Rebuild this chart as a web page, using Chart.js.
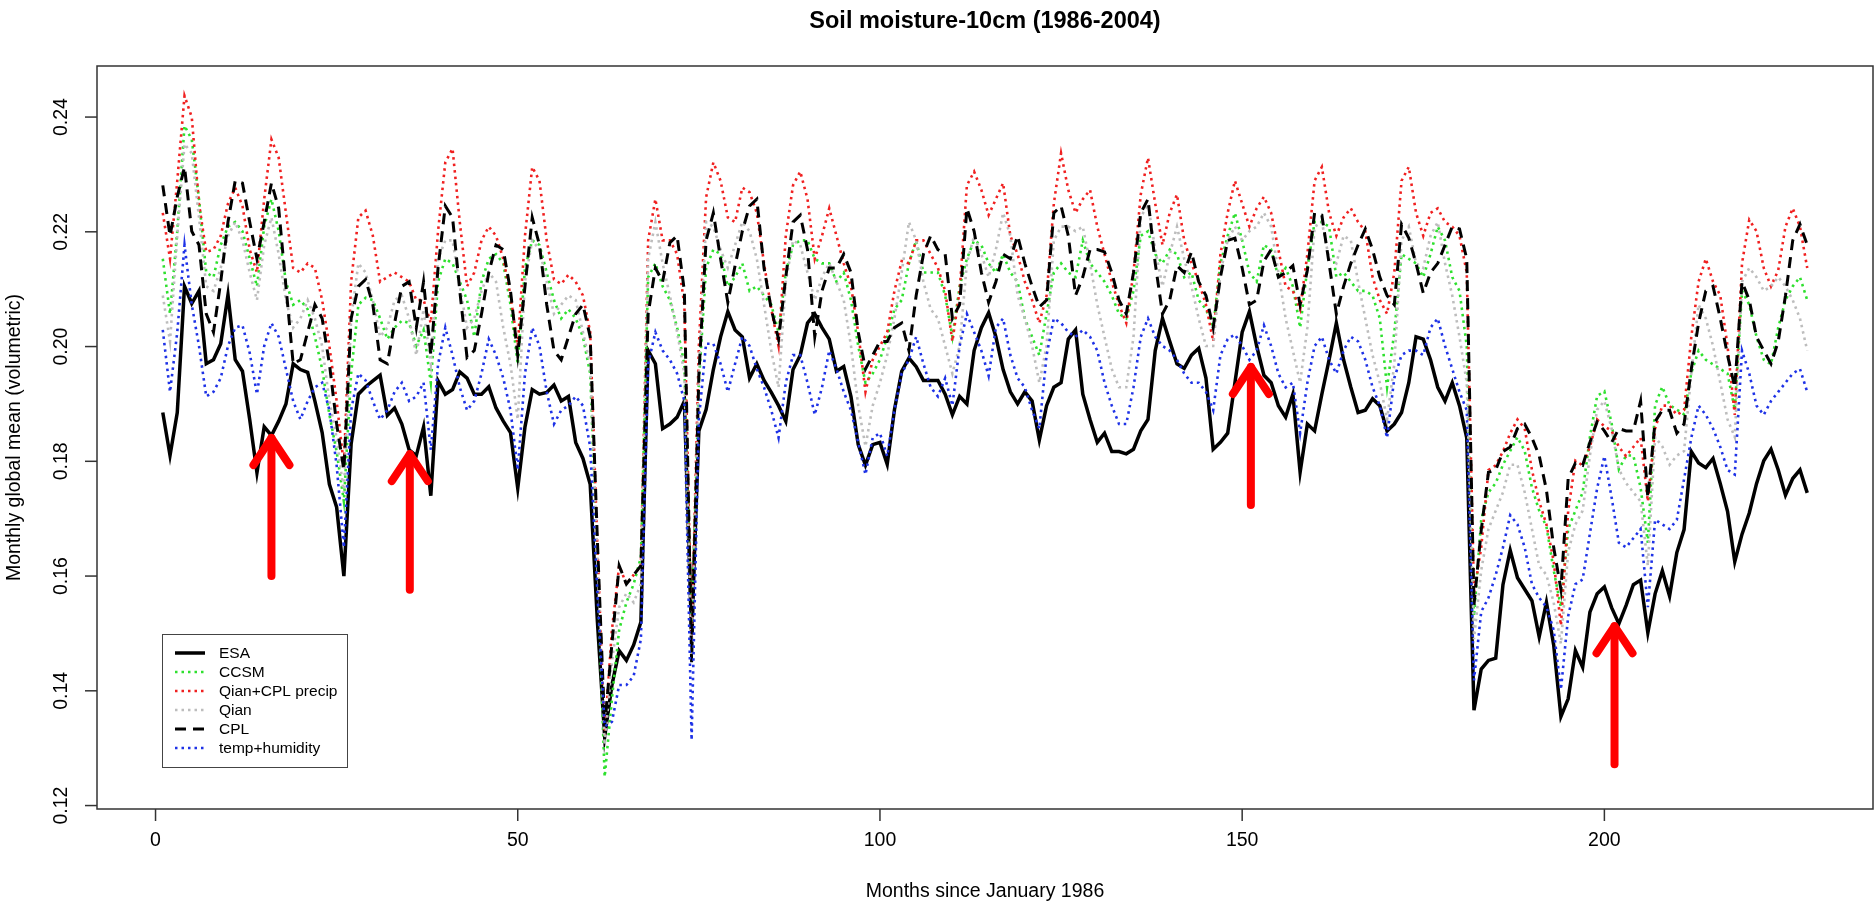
<!DOCTYPE html>
<html>
<head>
<meta charset="utf-8">
<script src="https://cdn.jsdelivr.net/npm/chart.js@4.4.0/dist/chart.umd.min.js"></script>
<style>
  body { margin: 0; background: #fff; }
  canvas { display: block; }
</style>
</head>
<body>
<canvas id="soil-chart" width="1876" height="908"></canvas>
<script>
// Months since January 1986 (1..228)
const months = Array.from({ length: 228 }, (_, i) => i + 1);

const esa = [
  0.1885, 0.181, 0.1885, 0.2105, 0.2075, 0.2097, 0.197, 0.1977, 0.2005, 0.209,
  0.1977, 0.1957, 0.1873, 0.178, 0.186, 0.1845, 0.187, 0.19, 0.197, 0.196,
  0.1955, 0.1905, 0.185, 0.176, 0.172, 0.16, 0.183, 0.1917, 0.193, 0.194,
  0.195, 0.188, 0.1893, 0.1865, 0.182, 0.181, 0.186, 0.174, 0.194, 0.1917,
  0.1925, 0.1956, 0.1945, 0.1917, 0.1917, 0.193, 0.1893, 0.187, 0.185, 0.1753,
  0.186, 0.1925, 0.1917, 0.192, 0.1933, 0.1905, 0.1913, 0.1833, 0.1805, 0.176,
  0.152, 0.132, 0.141, 0.147, 0.1453, 0.148, 0.152, 0.1993, 0.197, 0.1857,
  0.1865, 0.1877, 0.1905, 0.15, 0.1853, 0.189, 0.196, 0.2017, 0.2061, 0.2029,
  0.2017, 0.1945, 0.197, 0.1941, 0.192, 0.1897, 0.187, 0.196, 0.1985, 0.2041,
  0.2057, 0.2033, 0.2013, 0.1957, 0.1965, 0.1913, 0.1829, 0.1793, 0.1829, 0.1833,
  0.1795, 0.189, 0.1957, 0.198, 0.1965, 0.1941, 0.1941, 0.1941, 0.1917, 0.1881,
  0.1913, 0.19, 0.1993, 0.2033, 0.2059, 0.2017, 0.196, 0.1921, 0.19, 0.1921,
  0.1905, 0.1837, 0.1897, 0.1929, 0.1937, 0.2013, 0.2029, 0.1917, 0.1873, 0.1833,
  0.1849, 0.1817, 0.1817, 0.1813, 0.1821, 0.1853, 0.1873, 0.1993, 0.2049, 0.2009,
  0.197, 0.1962, 0.1985, 0.1997, 0.1945, 0.1821, 0.1833, 0.1849, 0.1937, 0.2025,
  0.2061, 0.2001, 0.195, 0.1937, 0.1897, 0.1877, 0.1917, 0.1781, 0.1865, 0.1853,
  0.1917, 0.1977, 0.2041, 0.1977, 0.1929, 0.1885, 0.1889, 0.1909, 0.1897, 0.1853,
  0.1865, 0.1885, 0.1937, 0.2017, 0.2013, 0.1977, 0.1929, 0.1905, 0.1937, 0.1897,
  0.1841, 0.1366, 0.1438, 0.1453, 0.1457, 0.1585, 0.1645, 0.1597, 0.1577, 0.1557,
  0.1494, 0.1554, 0.148, 0.1355, 0.1386, 0.147, 0.1441, 0.1537, 0.1569, 0.1581,
  0.1545, 0.1517, 0.1549, 0.1585, 0.1593, 0.1501, 0.1569, 0.1609, 0.1565, 0.1641,
  0.1681, 0.1817, 0.1797, 0.1789, 0.1805, 0.1761, 0.1713, 0.1625, 0.1673, 0.171,
  0.1761, 0.1801, 0.1821, 0.1785, 0.1741, 0.177, 0.1785, 0.1745
];

const ccsm = [
  0.2153, 0.2057, 0.2201, 0.2385, 0.2361, 0.2257, 0.2129, 0.2121, 0.2177, 0.2209,
  0.2217, 0.2201, 0.2153, 0.2105, 0.2209, 0.2257, 0.2201, 0.2113, 0.2073, 0.2081,
  0.2065, 0.2017, 0.1961, 0.1881, 0.1817, 0.173, 0.1953, 0.2073, 0.2085, 0.2081,
  0.2049, 0.2013, 0.2033, 0.2045, 0.2041, 0.2001, 0.2029, 0.1937, 0.2113, 0.2153,
  0.2145, 0.2113, 0.2081, 0.2017, 0.2113, 0.2153, 0.2161, 0.2145, 0.2073, 0.1969,
  0.2137, 0.2185, 0.2177, 0.2129, 0.2081, 0.2049, 0.2065, 0.2049, 0.2017, 0.1953,
  0.161, 0.125, 0.1386, 0.1506, 0.1554, 0.1586, 0.1633, 0.2121, 0.2145, 0.2105,
  0.2081, 0.2033, 0.1969, 0.1506, 0.1937, 0.2137, 0.2169, 0.2161, 0.2105, 0.2121,
  0.2145, 0.2097, 0.2105, 0.2089, 0.2073, 0.2025, 0.2129, 0.2177, 0.2185, 0.2185,
  0.2153, 0.2145, 0.2145, 0.2113, 0.2129, 0.2081, 0.2001, 0.1937, 0.1953, 0.1977,
  0.2017, 0.2065, 0.2081, 0.2145, 0.2185, 0.2129, 0.2129, 0.2129, 0.2089, 0.2017,
  0.2105, 0.2153, 0.2185, 0.2177, 0.2145, 0.2129, 0.2161, 0.2129, 0.2113, 0.2049,
  0.2017, 0.1985, 0.2057, 0.2129, 0.2145, 0.2129, 0.2121, 0.2185, 0.2145, 0.2129,
  0.2113, 0.2089, 0.2057, 0.2049, 0.2097, 0.2193, 0.2201, 0.2161, 0.2145, 0.2169,
  0.2161, 0.2121, 0.2129, 0.2081, 0.2065, 0.2033, 0.2145, 0.2193, 0.2233, 0.2185,
  0.2129, 0.2113, 0.2177, 0.2169, 0.2121, 0.2137, 0.2105, 0.2033, 0.2137, 0.2217,
  0.2217, 0.2209, 0.2121, 0.2129, 0.2113, 0.2097, 0.2097, 0.2089, 0.2049, 0.1929,
  0.2025, 0.2161, 0.2153, 0.2145, 0.2121, 0.2161, 0.2209, 0.2185, 0.2121, 0.2097,
  0.2001, 0.153, 0.1698, 0.1746, 0.1762, 0.1794, 0.1818, 0.1842, 0.1818, 0.1754,
  0.1714, 0.1686, 0.161, 0.1546, 0.1682, 0.1714, 0.1746, 0.1842, 0.1914, 0.1922,
  0.1866, 0.1786, 0.181, 0.181, 0.1754, 0.1658, 0.1898, 0.193, 0.1898, 0.189,
  0.1882, 0.1954, 0.1993, 0.1977, 0.1969, 0.1961, 0.1953, 0.189, 0.2097, 0.2073,
  0.2017, 0.1977, 0.1969, 0.2033, 0.2081, 0.2105, 0.2121, 0.2081
];

const qianCplPrecip = [
  0.2233, 0.2153, 0.2289, 0.2437, 0.24, 0.2249, 0.2165, 0.2169, 0.2193, 0.2249,
  0.2277, 0.2245, 0.2169, 0.2129, 0.2257, 0.2361, 0.2329, 0.2233, 0.2137, 0.2129,
  0.2145, 0.2137, 0.2081, 0.2001, 0.1905, 0.1793, 0.2113, 0.2225, 0.2237, 0.2193,
  0.2113, 0.2121, 0.2129, 0.2121, 0.2113, 0.2081, 0.2081, 0.2041, 0.2201, 0.2321,
  0.2345, 0.2217, 0.2105, 0.2129, 0.2185, 0.2209, 0.2193, 0.2153, 0.2089, 0.2001,
  0.2193, 0.2313, 0.2289, 0.2185, 0.2117, 0.2109, 0.2125, 0.2113, 0.2089, 0.2025,
  0.165, 0.1322, 0.1506, 0.1618, 0.1586, 0.1602, 0.1618, 0.2185, 0.2257, 0.2185,
  0.2185, 0.2161, 0.2073, 0.149, 0.2, 0.226, 0.2321, 0.2289, 0.2225, 0.2217,
  0.2277, 0.2269, 0.2233, 0.2145, 0.2065, 0.2001, 0.2193, 0.2281, 0.2305, 0.2257,
  0.2153, 0.2193, 0.2241, 0.2193, 0.2145, 0.2105, 0.2025, 0.1921, 0.1977, 0.2001,
  0.2025, 0.2097, 0.2149, 0.2145, 0.2185, 0.2185, 0.2161, 0.2137, 0.2097, 0.2009,
  0.2097, 0.2281, 0.2305, 0.2273, 0.2229, 0.2257, 0.2285, 0.2193, 0.2161, 0.2113,
  0.2081, 0.2041, 0.2089, 0.2249, 0.2337, 0.2273, 0.2233, 0.2257, 0.2273, 0.2209,
  0.2161, 0.2113, 0.2073, 0.2041, 0.2129, 0.2265, 0.2329, 0.2249, 0.2177, 0.2233,
  0.2265, 0.2185, 0.2145, 0.2113, 0.2073, 0.2009, 0.2161, 0.2233, 0.2289, 0.2249,
  0.2209, 0.2241, 0.2261, 0.2233, 0.2169, 0.2105, 0.2097, 0.2065, 0.2161, 0.2289,
  0.2313, 0.2233, 0.2193, 0.2225, 0.2241, 0.2217, 0.2201, 0.2121, 0.2081, 0.2057,
  0.2129, 0.2289, 0.2313, 0.2233, 0.2193, 0.2233, 0.2241, 0.2217, 0.2209, 0.2193,
  0.2129, 0.157, 0.165, 0.1785, 0.1793, 0.1817, 0.1849, 0.1873, 0.1857, 0.1785,
  0.173, 0.169, 0.1626, 0.1514, 0.1713, 0.1801, 0.1793, 0.1825, 0.1873, 0.1861,
  0.1853, 0.1825, 0.1809, 0.1825, 0.1841, 0.173, 0.1857, 0.1897, 0.1897, 0.1881,
  0.1889, 0.2017, 0.2113, 0.2153, 0.2113, 0.2089, 0.2001, 0.1881, 0.2145, 0.2221,
  0.2201, 0.2137, 0.2105, 0.2133, 0.2209, 0.2241, 0.2209, 0.2137
];

const qian = [
  0.2089, 0.2009, 0.2193, 0.2353, 0.2337, 0.2225, 0.2105, 0.2097, 0.2137, 0.2193,
  0.2217, 0.2185, 0.2129, 0.2081, 0.2177, 0.2225, 0.2161, 0.2081, 0.2033, 0.2049,
  0.2081, 0.2049, 0.2001, 0.1905, 0.1841, 0.1745, 0.2049, 0.2145, 0.2129, 0.2081,
  0.2017, 0.2033, 0.2081, 0.2089, 0.2049, 0.1985, 0.2065, 0.197, 0.2153, 0.2185,
  0.2185, 0.2105, 0.2033, 0.2049, 0.2097, 0.2129, 0.2113, 0.2033, 0.1969, 0.1873,
  0.2113, 0.2185, 0.2169, 0.2113, 0.2057, 0.2073, 0.2089, 0.2081, 0.2025, 0.1969,
  0.1626, 0.1306, 0.145, 0.1546, 0.157, 0.1554, 0.1586, 0.2153, 0.2217, 0.2145,
  0.2089, 0.2025, 0.1953, 0.1466, 0.1953, 0.2217, 0.2209, 0.2169, 0.2137, 0.2177,
  0.2217, 0.2201, 0.2153, 0.2073, 0.1993, 0.1929, 0.2113, 0.2185, 0.2177, 0.2129,
  0.2081, 0.2121, 0.2145, 0.2113, 0.2081, 0.2001, 0.1897, 0.1826, 0.1897, 0.1937,
  0.1985, 0.2049, 0.2129, 0.2217, 0.2185, 0.2113, 0.2065, 0.2049, 0.2001, 0.1953,
  0.2001, 0.2145, 0.2193, 0.2161, 0.2121, 0.2169, 0.2233, 0.2193, 0.2089, 0.2049,
  0.2001, 0.1937, 0.2001, 0.2185, 0.2209, 0.2209, 0.2201, 0.2209, 0.2145, 0.2073,
  0.2017, 0.1961, 0.1929, 0.1929, 0.2017, 0.2225, 0.2249, 0.2169, 0.2105, 0.2161,
  0.2209, 0.2153, 0.2105, 0.2049, 0.2001, 0.2001, 0.2129, 0.2185, 0.2209, 0.2185,
  0.2201, 0.2209, 0.2233, 0.2209, 0.2129, 0.2049, 0.1993, 0.1937, 0.2033, 0.2209,
  0.2217, 0.2153, 0.2145, 0.2193, 0.2185, 0.2113, 0.2049, 0.1985, 0.1937, 0.1873,
  0.1969, 0.2185, 0.2209, 0.2145, 0.2137, 0.2193, 0.2217, 0.2145, 0.2089, 0.2017,
  0.1937, 0.149, 0.161, 0.1682, 0.1714, 0.1746, 0.1794, 0.1794, 0.1746, 0.1682,
  0.1618, 0.1602, 0.1554, 0.1482, 0.1642, 0.169, 0.1714, 0.181, 0.189, 0.1905,
  0.1857, 0.1786, 0.1762, 0.1746, 0.173, 0.1618, 0.1842, 0.1826, 0.1794, 0.181,
  0.1818, 0.1954, 0.2073, 0.2049, 0.2001, 0.1937, 0.1873, 0.1842, 0.2113, 0.2137,
  0.2121, 0.2097, 0.2105, 0.2121, 0.2105, 0.2081, 0.2049, 0.1993
];

const cpl = [
  0.2281, 0.2193, 0.2261, 0.2313, 0.2201, 0.2177, 0.2057, 0.2025, 0.2113, 0.2217,
  0.2289, 0.2285, 0.2217, 0.2153, 0.2217, 0.2285, 0.2241, 0.2105, 0.197, 0.1977,
  0.2025, 0.2073, 0.2049, 0.197, 0.1865, 0.1785, 0.2049, 0.2105, 0.2117, 0.2073,
  0.1977, 0.197, 0.2041, 0.2105, 0.2113, 0.2033, 0.2113, 0.1985, 0.2137, 0.2245,
  0.2225, 0.2097, 0.1981, 0.1993, 0.2057, 0.2129, 0.2177, 0.2169, 0.2097, 0.1985,
  0.2105, 0.2225, 0.2177, 0.2073, 0.1993, 0.1977, 0.2017, 0.2057, 0.2073, 0.2017,
  0.166, 0.1338, 0.1482, 0.1618, 0.1586, 0.1602, 0.1618, 0.2057, 0.2137, 0.2113,
  0.2181, 0.2193, 0.2097, 0.145, 0.195, 0.2185, 0.2233, 0.2153, 0.2077, 0.2141,
  0.2201, 0.2245, 0.2257, 0.2137, 0.2065, 0.2013, 0.2121, 0.2217, 0.2229, 0.2169,
  0.2017, 0.2097, 0.2137, 0.2137, 0.2161, 0.2129, 0.2025, 0.1961, 0.1985, 0.2009,
  0.2009, 0.2033, 0.2041, 0.1993, 0.2089, 0.2161, 0.2193, 0.2169, 0.2161, 0.2049,
  0.2073, 0.2241, 0.2201, 0.2129, 0.2077, 0.2113, 0.2161, 0.2153, 0.2193, 0.2145,
  0.2105, 0.2069, 0.2081, 0.2233, 0.2245, 0.2193, 0.2089, 0.2121, 0.2169, 0.2169,
  0.2165, 0.2129, 0.2081, 0.2057, 0.2129, 0.2233, 0.2257, 0.2145, 0.2057, 0.2081,
  0.2141, 0.2129, 0.2165, 0.2113, 0.2089, 0.2033, 0.2121, 0.2185, 0.2189, 0.2137,
  0.2073, 0.2081, 0.2149, 0.2169, 0.2121, 0.2129, 0.2141, 0.2073, 0.2133, 0.2233,
  0.2229, 0.2145, 0.2057, 0.2105, 0.2145, 0.2177, 0.2205, 0.2169, 0.2121, 0.2089,
  0.2073, 0.2213, 0.2189, 0.2145, 0.2093, 0.2129, 0.2145, 0.2177, 0.2209, 0.2205,
  0.2153, 0.155, 0.168, 0.1781, 0.1785, 0.1817, 0.1825, 0.1857, 0.1865, 0.1841,
  0.181, 0.175, 0.165, 0.1577, 0.177, 0.1797, 0.1793, 0.1833, 0.1869, 0.1853,
  0.1833, 0.1857, 0.1853, 0.1853, 0.1905, 0.1737, 0.1869, 0.1889, 0.1889, 0.1849,
  0.1865, 0.1961, 0.2041, 0.2097, 0.2105, 0.2049, 0.1985, 0.1929, 0.2113, 0.2081,
  0.2017, 0.1993, 0.197, 0.2009, 0.2089, 0.2185, 0.2213, 0.2177
];

const tempHumidity = [
  0.2029, 0.1921, 0.2025, 0.2177, 0.2073, 0.2001, 0.1913, 0.1921, 0.1945, 0.2001,
  0.2033, 0.2037, 0.1989, 0.1917, 0.2001, 0.2041, 0.2017, 0.1961, 0.1905, 0.1873,
  0.1905, 0.1929, 0.1937, 0.1889, 0.1793, 0.165, 0.1889, 0.1953, 0.1941, 0.1905,
  0.1873, 0.1889, 0.1921, 0.1937, 0.1905, 0.1913, 0.1937, 0.182, 0.1969, 0.2033,
  0.1985, 0.1929, 0.1889, 0.1905, 0.1953, 0.2013, 0.1985, 0.1945, 0.1889, 0.1785,
  0.1953, 0.2033, 0.2001, 0.1921, 0.1865, 0.1889, 0.1897, 0.1913, 0.1897, 0.1825,
  0.157, 0.1338, 0.1346, 0.141, 0.141, 0.1426, 0.149, 0.197, 0.2025, 0.1993,
  0.1977, 0.1953, 0.1905, 0.1314, 0.1873, 0.2005, 0.2005, 0.197, 0.1921, 0.197,
  0.2017, 0.2001, 0.1961, 0.1929, 0.1889, 0.1841, 0.1937, 0.1985, 0.1985, 0.1937,
  0.1881, 0.1929, 0.1993, 0.1961, 0.1921, 0.1889, 0.1833, 0.1777, 0.1841, 0.1849,
  0.1809, 0.1889, 0.1953, 0.1977, 0.2017, 0.197, 0.1929, 0.1913, 0.1945, 0.1897,
  0.2001, 0.2057, 0.2025, 0.1993, 0.1949, 0.2033, 0.2049, 0.1985, 0.1945, 0.1929,
  0.1889, 0.1857, 0.1985, 0.2049, 0.2041, 0.2025, 0.2017, 0.2029, 0.2017, 0.1993,
  0.1937, 0.1897, 0.1865, 0.1865, 0.1929, 0.2017, 0.2049, 0.2017, 0.2001, 0.1993,
  0.1977, 0.1953, 0.1937, 0.1937, 0.1921, 0.1889, 0.1985, 0.2013, 0.2021, 0.2001,
  0.1977, 0.1993, 0.2037, 0.2001, 0.1953, 0.1929, 0.1937, 0.1849, 0.1937, 0.2001,
  0.2017, 0.1977, 0.1953, 0.1993, 0.2017, 0.2009, 0.1977, 0.1929, 0.1897, 0.1841,
  0.1945, 0.1985, 0.1993, 0.1993, 0.1985, 0.2033, 0.2049, 0.2001, 0.1961, 0.1921,
  0.1889, 0.1418, 0.1538, 0.1562, 0.1602, 0.165, 0.1706, 0.169, 0.165, 0.1586,
  0.1562, 0.1546, 0.1506, 0.1402, 0.153, 0.1586, 0.1594, 0.1674, 0.1753, 0.1809,
  0.1737, 0.1658, 0.165, 0.1666, 0.1682, 0.1546, 0.1698, 0.169, 0.1682, 0.1698,
  0.1769, 0.1841, 0.1897, 0.1881, 0.1857, 0.1825, 0.1785, 0.1777, 0.1993, 0.1953,
  0.1897, 0.1881, 0.1905, 0.1921, 0.1937, 0.1953, 0.1961, 0.1921
];

// Axis ticks
const xTicks = [0, 50, 100, 150, 200];
const yTicks = [0.12, 0.14, 0.16, 0.18, 0.20, 0.22, 0.24];
const yTickLabels = ["0.12", "0.14", "0.16", "0.18", "0.20", "0.22", "0.24"];

// Red annotation arrows: month, tip value, tail value
const arrowMonths = [16.0, 35.1, 151.2, 201.4];
const arrowTips = [0.1844, 0.1816, 0.1968, 0.1516];
const arrowTails = [0.1600, 0.1576, 0.1724, 0.1272];

const toPoints = (arr) => months.map((m, i) => ({ x: m, y: arr[i] }));

const FONT = "'Liberation Sans', Arial, sans-serif";

// R-like axes, box, titles, legend
const rDecorations = {
  id: "rDecorations",
  afterDatasetsDraw(chart) {
    const ctx = chart.ctx;
    const xs = chart.scales.x;
    const ys = chart.scales.y;
    ctx.save();
    ctx.strokeStyle = "#ff0000";
    ctx.lineWidth = 8;
    ctx.lineCap = "round";
    ctx.lineJoin = "round";
    arrowMonths.forEach((m, i) => {
      const px = xs.getPixelForValue(m);
      const tip = ys.getPixelForValue(arrowTips[i]);
      const tail = ys.getPixelForValue(arrowTails[i]);
      ctx.beginPath();
      ctx.moveTo(px, tail);
      ctx.lineTo(px, tip + 2);
      ctx.stroke();
      ctx.beginPath();
      ctx.moveTo(px - 18, tip + 29);
      ctx.lineTo(px, tip + 2);
      ctx.lineTo(px + 18, tip + 29);
      ctx.stroke();
    });
    ctx.restore();
  },
  afterDraw(chart) {
    const ctx = chart.ctx;
    const area = chart.chartArea;
    const xs = chart.scales.x;
    const ys = chart.scales.y;
    ctx.save();

    // plot box
    ctx.strokeStyle = "#333";
    ctx.lineWidth = 1.5;
    ctx.strokeRect(area.left, area.top, area.right - area.left, area.bottom - area.top);

    ctx.fillStyle = "#000";
    ctx.font = "19.5px " + FONT;

    // x axis ticks
    ctx.textAlign = "center";
    ctx.textBaseline = "middle";
    xTicks.forEach((t) => {
      const px = xs.getPixelForValue(t);
      ctx.beginPath();
      ctx.moveTo(px, area.bottom);
      ctx.lineTo(px, area.bottom + 12);
      ctx.stroke();
      ctx.fillText(String(t), px, 841);
    });

    // y axis ticks (rotated labels like R)
    yTicks.forEach((t, i) => {
      const py = ys.getPixelForValue(t);
      ctx.beginPath();
      ctx.moveTo(area.left, py);
      ctx.lineTo(area.left - 12, py);
      ctx.stroke();
      ctx.save();
      ctx.translate(62, py);
      ctx.rotate(-Math.PI / 2);
      ctx.fillText(yTickLabels[i], 0, 0);
      ctx.restore();
    });

    // axis titles
    const cx = (area.left + area.right) / 2;
    const cy = (area.top + area.bottom) / 2;
    ctx.fillText("Months since January 1986", cx, 892);
    ctx.save();
    ctx.translate(15, cy);
    ctx.rotate(-Math.PI / 2);
    ctx.fillText("Monthly global mean (volumetric)", 0, 0);
    ctx.restore();

    // main title
    ctx.font = "bold 23.5px " + FONT;
    ctx.fillText("Soil moisture-10cm (1986-2004)", cx, 22);

    // legend
    const lx = 162, ly = 634, lw = 185, lh = 133;
    ctx.fillStyle = "#fff";
    ctx.fillRect(lx, ly, lw, lh);
    ctx.strokeStyle = "#444";
    ctx.lineWidth = 1;
    ctx.strokeRect(lx + 0.5, ly + 0.5, lw, lh);
    ctx.font = "15.5px " + FONT;
    ctx.textAlign = "left";
    chart.data.datasets.forEach((ds, i) => {
      const rowY = 653 + i * 19;
      ctx.save();
      ctx.strokeStyle = ds.borderColor;
      ctx.lineWidth = ds.borderWidth;
      ctx.setLineDash(ds.borderDash || []);
      ctx.beginPath();
      ctx.moveTo(175, rowY);
      ctx.lineTo(205, rowY);
      ctx.stroke();
      ctx.restore();
      ctx.fillStyle = "#000";
      ctx.fillText(ds.label, 219, rowY + 1);
    });

    ctx.restore();
  }
};

const dotted = [2.5, 4];
const ctx = document.getElementById("soil-chart").getContext("2d");
const chart = new Chart(ctx, {
  type: "line",
  data: {
    datasets: [
      { label: "ESA", data: toPoints(esa), borderColor: "#000000", borderWidth: 3.5, order: 6 },
      { label: "CCSM", data: toPoints(ccsm), borderColor: "#2ee02e", borderWidth: 2.6, borderDash: dotted, order: 5 },
      { label: "Qian+CPL precip", data: toPoints(qianCplPrecip), borderColor: "#f02020", borderWidth: 2.6, borderDash: dotted, order: 4 },
      { label: "Qian", data: toPoints(qian), borderColor: "#bdbdbd", borderWidth: 2.6, borderDash: dotted, order: 3 },
      { label: "CPL", data: toPoints(cpl), borderColor: "#000000", borderWidth: 3, borderDash: [11, 7], order: 2 },
      { label: "temp+humidity", data: toPoints(tempHumidity), borderColor: "#1e32e6", borderWidth: 2.6, borderDash: dotted, order: 1 },
    ],
  },
  options: {
    responsive: false,
    animation: false,
    devicePixelRatio: 1,
    layout: { padding: { left: 97, right: 3, top: 66, bottom: 99 } },
    elements: {
      point: { radius: 0 },
      line: { tension: 0, fill: false, borderCapStyle: "butt" },
    },
    plugins: {
      legend: { display: false },
      tooltip: { enabled: false },
    },
    scales: {
      x: { type: "linear", display: false, min: -8.08, max: 237.08 },
      y: { type: "linear", display: false, min: 0.1194, max: 0.2489 },
    },
  },
  plugins: [rDecorations],
});
</script>
</body>
</html>
